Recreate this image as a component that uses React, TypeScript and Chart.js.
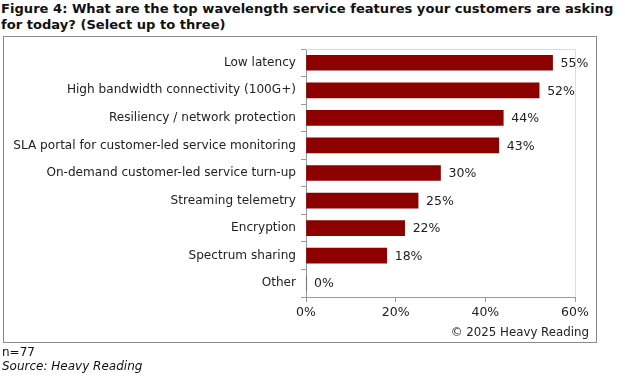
import React, { useEffect, useRef } from "react";
import { Chart, registerables } from "chart.js";

Chart.register(...registerables);

const categories = [
  "Low latency",
  "High bandwidth connectivity (100G+)",
  "Resiliency / network protection",
  "SLA portal for customer-led service monitoring",
  "On-demand customer-led service turn-up",
  "Streaming telemetry",
  "Encryption",
  "Spectrum sharing",
  "Other",
];
const values = [55, 52, 44, 43, 30, 25, 22, 18, 0];
const xTicks = [0, 20, 40, 60];

const FONT = "'DejaVu Sans', Verdana, sans-serif";
const BAR = "#8c0000";

const labelPlugin = {
  id: "valueLabels",
  afterDatasetsDraw(chart: any) {
    const ctx = chart.ctx;
    const meta = chart.getDatasetMeta(0);
    ctx.save();
    ctx.font = `12.5px ${FONT}`;
    ctx.fillStyle = "#222";
    ctx.textAlign = "left";
    ctx.textBaseline = "middle";
    meta.data.forEach((el: any, i: number) => {
      ctx.fillText(values[i] + "%", el.x + 8, el.y + 1);
    });
    ctx.restore();
  },
};

const framePlugin = {
  id: "frame",
  beforeDatasetsDraw(chart: any) {
    const { ctx, chartArea } = chart;
    ctx.save();
    ctx.strokeStyle = "#dcdcdc";
    ctx.lineWidth = 1;
    ctx.beginPath();
    ctx.moveTo(chartArea.left, chartArea.top + 0.5);
    ctx.lineTo(chartArea.right + 0.5, chartArea.top + 0.5);
    ctx.lineTo(chartArea.right + 0.5, chartArea.bottom);
    ctx.stroke();
    ctx.restore();
  },
};

export default function App() {
  const ref = useRef<HTMLCanvasElement>(null);
  useEffect(() => {
    if (!ref.current) return;
    const chart = new Chart(ref.current, {
      type: "bar",
      data: {
        labels: categories,
        datasets: [
          {
            data: values,
            backgroundColor: BAR,
            borderWidth: 0,
            barThickness: 15,
          },
        ],
      },
      plugins: [framePlugin, labelPlugin],
      options: {
        indexAxis: "y",
        animation: false,
        responsive: false,
        devicePixelRatio: 1,
        layout: { padding: { left: 0, top: 49, right: 50, bottom: 55 } },
        plugins: { legend: { display: false }, tooltip: { enabled: false } },
        scales: {
          x: {
            min: 0,
            max: 60,
            afterBuildTicks: (s: any) => {
              s.ticks = xTicks.map((v) => ({ value: v }));
            },
            afterFit: (s: any) => {
              s.height = 30;
            },
            grid: {
              drawOnChartArea: false,
              drawTicks: true,
              tickLength: 5,
              tickColor: "#999",
              color: "#999",
            },
            border: { color: "#999", width: 1 },
            ticks: {
              padding: 3,
              color: "#222",
              font: { family: FONT, size: 12.5 },
              callback: (v: any) => v + "%",
            },
          },
          y: {
            afterFit: (s: any) => {
              s.width = 306;
            },
            grid: {
              offset: true,
              drawOnChartArea: false,
              tickLength: 5,
              tickColor: "#999",
            },
            border: { color: "#999", width: 1 },
            ticks: {
              padding: 5,
              color: "#222",
              font: { family: FONT, size: 12.1 },
            },
          },
        },
      },
    });
    return () => chart.destroy();
  }, []);

  return (
    <div style={{ position: "absolute", left: 0, top: 0, width: 625, height: 382, background: "#fff", fontFamily: FONT, color: "#111" }}>
      <div style={{ position: "absolute", left: 1, top: 1, width: 624, fontWeight: "bold", fontSize: 13.1, lineHeight: "16px", whiteSpace: "nowrap" }}>
        Figure 4: What are the top wavelength service features your customers are asking
        <br />
        for today? (Select up to three)
      </div>
      <div style={{ position: "absolute", left: 3, top: 36, width: 592, height: 305, border: "1.5px solid #8a8a8a" }} />
      <canvas ref={ref} width={625} height={382} style={{ position: "absolute", left: 0, top: 0 }} />
      <div style={{ position: "absolute", right: 36, top: 325, fontSize: 11.8, color: "#222" }}>© 2025 Heavy Reading</div>
      <div style={{ position: "absolute", left: 2, top: 345, fontSize: 12, lineHeight: "14px" }}>n=77</div>
      <div style={{ position: "absolute", left: 2, top: 359, fontSize: 12, lineHeight: "14px", fontStyle: "italic" }}>Source: Heavy Reading</div>
    </div>
  );
}
